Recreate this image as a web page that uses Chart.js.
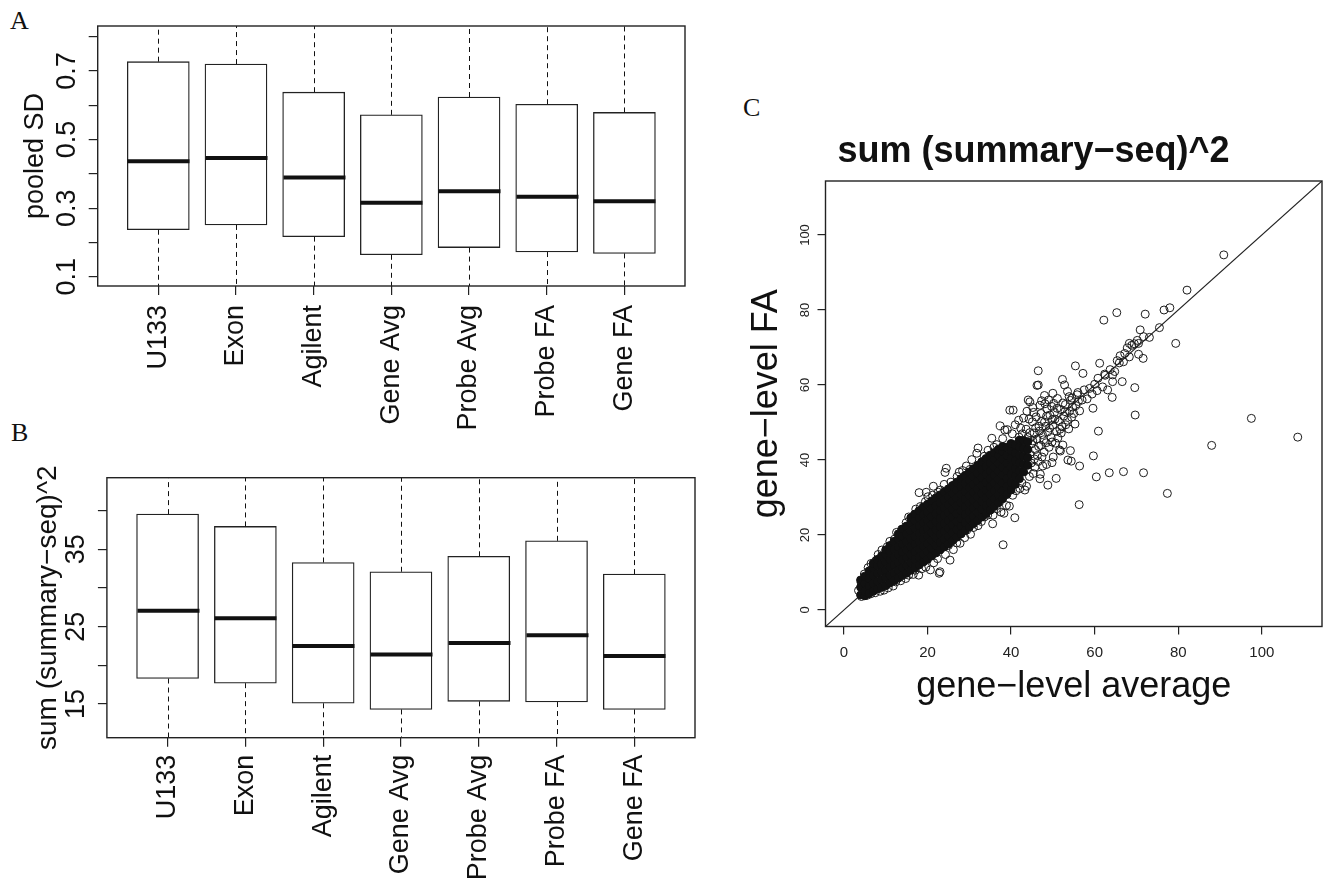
<!DOCTYPE html>
<html>
<head>
<meta charset="utf-8">
<script src="https://cdn.jsdelivr.net/npm/chart.js@4.4.1/dist/chart.umd.min.js"></script>
<style>
html, body { margin: 0; padding: 0; background: #fff; overflow: hidden; width: 1323px; height: 885px; }
canvas { position: absolute; }
.tag { position: absolute; font-family: "Liberation Serif", "DejaVu Serif", serif; font-size: 26px; line-height: 26px; color: #111; }
</style>
</head>
<body>
<div class="tag" style="left:10px;top:8px">A</div>
<div class="tag" style="left:11px;top:420px">B</div>
<div class="tag" style="left:743px;top:95px">C</div>
<canvas id="chartA" width="720" height="440" style="left:0;top:0"></canvas>
<canvas id="chartB" width="720" height="445" style="left:0;top:440px"></canvas>
<canvas id="chartC" width="658" height="720" style="left:745px;top:0"></canvas>
<script>
const groups = ['U133', 'Exon', 'Agilent', 'Gene Avg', 'Probe Avg', 'Probe FA', 'Gene FA']

// panel A - pooled SD (whiskers run past the plotted range)
const sdLow = [0.02, 0.03, 0.01, 0.0, 0.0, 0.0, 0.0]
const sdQ1 = [0.237, 0.251, 0.217, 0.164, 0.185, 0.172, 0.168]
const sdMed = [0.437, 0.446, 0.389, 0.316, 0.349, 0.333, 0.320]
const sdQ3 = [0.727, 0.720, 0.638, 0.572, 0.624, 0.603, 0.579]
const sdHigh = [1.2, 1.2, 1.1, 1.0, 1.1, 1.05, 1.0]
const sdTickLabels = ['0.1', '0.3', '0.5', '0.7']

// panel B - sum (summary-seq)^2
const ssLow = [5, 5, 3, 2, 3, 3, 2]
const ssQ1 = [18.3, 17.7, 15.1, 14.3, 15.35, 15.26, 14.3]
const ssMed = [27.06, 26.1, 22.5, 21.4, 22.9, 23.9, 21.2]
const ssQ3 = [39.55, 37.96, 33.3, 32.1, 34.1, 36.1, 31.8]
const ssHigh = [60, 58, 52, 50, 53, 55, 49]
const ssTickLabels = ['15', '25', '35']

// panel C - gene-level average vs gene-level FA
// the solid black core of the cloud, one row per x
const denseXY = [
  [4,4.0],[4,6.1],[4,8.0],
  [5,3.8],[5,5.0],[5,7.1],[5,9.0],
  [6,4.4],[6,6.4],[6,8.5],[6,10.4],
  [7,5.0],[7,7.1],[7,9.2],[7,11.3],[7,12.4],
  [8,5.6],[8,7.7],[8,9.8],[8,11.9],[8,13.5],
  [9,6.0],[9,8.1],[9,10.2],[9,12.3],[9,14.4],
  [10,6.5],[10,8.6],[10,10.7],[10,12.8],[10,14.9],[10,16.0],
  [11,7.2],[11,9.3],[11,11.4],[11,13.5],[11,15.6],[11,17.2],
  [12,7.8],[12,9.9],[12,12.0],[12,14.1],[12,16.2],[12,18.3],
  [13,8.5],[13,10.6],[13,12.7],[13,14.8],[13,16.9],[13,19.0],[13,20.3],
  [14,9.2],[14,11.3],[14,13.4],[14,15.5],[14,17.6],[14,19.7],[14,21.6],
  [15,9.8],[15,11.9],[15,14.0],[15,16.1],[15,18.2],[15,20.3],[15,22.4],
  [16,10.6],[16,12.7],[16,14.8],[16,16.9],[16,19.0],[16,21.1],[16,23.2],[16,24.6],
  [17,11.3],[17,13.4],[17,15.5],[17,17.6],[17,19.7],[17,21.8],[17,23.9],[17,25.6],
  [18,12.0],[18,14.1],[18,16.2],[18,18.3],[18,20.4],[18,22.5],[18,24.6],[18,26.5],
  [19,12.8],[19,14.9],[19,17.0],[19,19.1],[19,21.2],[19,23.3],[19,25.4],[19,27.5],
  [20,13.5],[20,15.6],[20,17.7],[20,19.8],[20,21.9],[20,24.0],[20,26.1],[20,28.2],
  [21,14.4],[21,16.5],[21,18.6],[21,20.7],[21,22.8],[21,24.9],[21,27.0],[21,29.1],
  [22,15.2],[22,17.3],[22,19.4],[22,21.5],[22,23.6],[22,25.7],[22,27.8],[22,29.9],
  [23,16.0],[23,18.1],[23,20.2],[23,22.3],[23,24.4],[23,26.5],[23,28.6],[23,30.7],
  [24,16.8],[24,18.9],[24,21.0],[24,23.1],[24,25.2],[24,27.3],[24,29.4],[24,31.5],
  [25,17.6],[25,19.7],[25,21.8],[25,23.9],[25,26.0],[25,28.1],[25,30.2],[25,32.3],
  [26,18.5],[26,20.6],[26,22.7],[26,24.8],[26,26.9],[26,29.0],[26,31.1],[26,33.2],
  [27,19.4],[27,21.5],[27,23.6],[27,25.7],[27,27.8],[27,29.9],[27,32.0],[27,34.1],
  [28,20.3],[28,22.4],[28,24.5],[28,26.6],[28,28.7],[28,30.8],[28,32.9],[28,35.0],
  [29,21.2],[29,23.3],[29,25.4],[29,27.5],[29,29.6],[29,31.7],[29,33.8],[29,35.9],
  [30,22.1],[30,24.2],[30,26.3],[30,28.4],[30,30.5],[30,32.6],[30,34.7],[30,36.8],
  [31,23.0],[31,25.1],[31,27.2],[31,29.3],[31,31.4],[31,33.5],[31,35.6],[31,37.7],
  [32,23.9],[32,26.0],[32,28.1],[32,30.2],[32,32.3],[32,34.4],[32,36.5],[32,38.6],
  [33,24.8],[33,26.9],[33,29.0],[33,31.1],[33,33.2],[33,35.3],[33,37.4],[33,39.5],
  [34,25.7],[34,27.8],[34,29.9],[34,32.0],[34,34.1],[34,36.2],[34,38.3],[34,40.4],
  [35,26.6],[35,28.7],[35,30.8],[35,32.9],[35,35.0],[35,37.1],[35,39.2],[35,41.3],
  [36,27.6],[36,29.7],[36,31.8],[36,33.9],[36,36.0],[36,38.1],[36,40.2],[36,42.0],
  [37,28.6],[37,30.7],[37,32.8],[37,34.9],[37,37.0],[37,39.1],[37,41.2],[37,42.9],
  [38,29.7],[38,31.8],[38,33.9],[38,36.0],[38,38.1],[38,40.2],[38,42.3],[38,43.6],
  [39,30.8],[39,32.9],[39,35.0],[39,37.1],[39,39.2],[39,41.3],[39,43.4],
  [40,32.0],[40,34.1],[40,36.2],[40,38.3],[40,40.4],[40,42.5],[40,44.4],
  [41,33.5],[41,35.6],[41,37.7],[41,39.8],[41,41.9],[41,44.0],
  [42,35.0],[42,37.1],[42,39.2],[42,41.3],[42,43.4],[42,45.3],
  [43,36.8],[43,38.9],[43,41.0],[43,43.1],[43,45.2],
  [44,38.6],[44,40.7],[44,42.8],[44,44.9]
]
// open circles round the edge of the cloud and along its upper part
const openXY = [
  [3.5,5.2],[4.1,7.4],[4.9,9.6],[5.8,11.3],[6.5,12.4],[7.6,13.1],[8.2,14.8],[9.1,16.0],[10.4,16.9],
  [11.0,18.3],[12.1,18.9],[12.6,20.7],[13.8,21.5],[14.9,23.3],[15.5,24.8],[16.7,25.2],[17.2,26.9],
  [18.3,27.6],[18.0,31.3],[19.5,28.9],[20.1,30.2],[19.7,31.4],[21.4,33.0],[21.2,30.6],[22.6,31.4],
  [23.1,32.0],[24.2,36.7],[24.5,37.8],[24.0,33.5],[25.6,34.1],[26.2,33.2],[27.1,35.6],[27.6,36.8],
  [28.4,37.2],[29.3,38.4],[30.2,37.5],[30.6,40.1],[31.8,41.8],[32.1,43.2],[33.0,39.5],[33.6,41.0],
  [34.5,42.6],[35.4,45.8],[35.9,43.4],[36.6,44.1],[37.4,49.1],[38.5,48.0],[38.0,45.7],[39.1,48.1],
  [39.7,53.3],[40.3,47.0],[41.0,49.4],[41.8,50.6],[42.3,48.5],[43.0,51.2],[43.8,53.0],[44.1,56.0],
  [45.2,54.0],[46.5,60.0],[47.3,55.8],[48.0,57.2],[49.0,56.0],[50.0,57.8],[50.2,55.1],[51.1,56.4],
  [52.8,60.0],[53.5,58.3],[54.2,55.9],[55.8,57.4],
  [4.2,3.6],[5.5,3.9],[6.4,4.3],[7.5,4.6],[8.7,5.0],[9.6,5.3],[10.6,5.9],[11.8,6.4],[12.4,7.5],
  [13.6,7.8],[14.8,8.4],[15.5,9.3],[16.6,9.5],[17.9,9.3],[17.1,10.6],[18.6,11.0],[19.6,11.4],
  [20.7,10.7],[21.5,12.6],[22.8,9.8],[23.0,10.2],[22.4,13.7],[24.3,14.8],[25.0,17.2],[25.4,13.3],
  [26.2,16.1],[27.0,17.9],[27.8,17.8],[28.1,20.4],[28.9,19.3],[29.4,21.3],[30.3,20.2],[31.0,22.0],
  [32.1,22.5],[32.9,23.6],[33.6,24.8],[34.4,25.3],[35.6,23.0],[35.7,25.3],[36.5,27.0],[37.6,26.1],
  [38.3,25.8],[38.9,27.9],[39.6,27.7],[40.9,24.6],[40.4,30.6],[41.2,31.8],[42.1,32.4],[42.6,33.9],
  [43.3,32.0],[43.7,33.0],[44.4,35.6],[45.3,36.4],[46.9,35.0],[47.0,36.2],[47.6,38.4],[48.5,38.8],
  [48.8,33.3],[49.8,39.3],[50.1,40.8],[50.8,35.1],[51.6,42.7],[52.4,44.0],[53.6,40.0],[54.2,42.5],
  [40.8,42.0],[41.3,44.2],[42.0,42.7],[42.5,45.1],[43.1,39.8],[43.5,43.6],[44.0,46.0],[44.6,41.5],
  [44.9,44.3],[45.5,47.2],[45.8,42.8],[46.2,45.6],[46.7,49.0],[47.1,43.9],[47.5,46.8],[48.0,50.1],
  [48.4,44.6],[48.8,47.5],[49.3,52.0],[49.6,46.0],[50.0,49.3],[50.4,52.7],[50.9,47.6],[51.3,50.5],
  [51.8,53.5],[52.2,48.9],[52.6,51.7],[53.0,54.8],[53.5,50.6],[54.0,53.0],[54.6,56.5],[55.0,52.4],
  [55.5,54.5],[56.0,58.0],[56.4,53.1],[57.0,56.0],[57.5,58.7],[58.2,56.3],[58.8,59.1],[59.4,57.6],
  [60.0,60.2],[60.6,58.5],[61.9,59.5],[62.5,62.6],[63.7,64.1],[64.8,63.6],[65.4,66.5],[67.2,68.4],
  [67.8,69.9],[68.9,70.6],[69.5,71.0],[70.2,71.9],
  [44.8,39.2],[45.6,40.3],[46.3,41.2],[46.8,47.7],[47.9,42.1],[48.3,49.0],[49.1,43.4],[49.9,50.8],
  [50.6,44.5],[51.2,45.9],[52.0,47.2],[52.9,52.9],[53.8,48.3],[54.5,51.4],[55.3,49.6],[56.1,55.6],
  [45.1,50.2],[46.0,51.5],[47.2,52.4],[48.6,53.6],[49.7,54.3],[43.6,48.2],[42.7,47.0],[41.9,46.1],
  [44.5,47.3],[45.2,45.1],[45.9,48.6],[46.6,43.6],[47.3,50.3],[47.8,45.4],[48.5,51.7],[49.2,48.5],
  [49.8,44.8],[50.5,50.9],[51.0,53.8],[51.7,48.2],[52.4,55.2],[53.1,49.4],[53.9,56.9],[54.7,54.1],
  [45.7,38.1],[46.5,39.6],[47.4,40.8],[43.9,37.4],[44.3,50.9],[45.4,52.7],[46.9,54.6],[48.1,55.0]
]
// isolated points
const outlierXY = [
  [90.9,94.7],[82.1,85.3],[62.2,77.3],[65.3,79.3],[72.1,78.9],[76.6,80.0],[78.0,80.6],[75.5,75.3],
  [79.4,71.1],[70.9,74.7],[73.1,72.7],[68.3,71.1],[70.5,71.1],[71.7,72.9],[70.5,68.2],[71.6,67.1],
  [66.1,67.8],[68.3,67.5],[66.9,66.2],[65.9,65.9],[61.2,65.8],[55.4,65.1],[57.2,63.1],[52.3,61.5],
  [60.8,61.8],[62.4,62.9],[64.3,62.7],[64.3,60.9],[66.6,60.9],[69.6,59.3],[63.1,58.7],[64.2,56.7],
  [59.6,53.8],[69.7,52.0],[60.9,47.7],[51.8,42.4],[59.7,41.1],[54.4,39.7],[56.4,38.4],[60.4,35.5],
  [63.5,36.6],[66.9,36.9],[71.7,36.6],[88.0,43.9],[97.5,51.1],[108.6,46.1],[77.4,31.1],[56.3,28.1],
  [38.1,17.4],[46.5,63.8],[46.2,59.9],[40.5,53.3],[44.5,55.5]
]
const diagXY = [[-10, -10], [120, 120]]
const cTickLabels = ['0', '20', '40', '60', '80', '100']

const family = '"Liberation Sans", Arial, Helvetica, sans-serif'
const ink = '#111'

// frame round the plot region, like R's box()
const frame = {
  id: 'frame',
  afterDraw(chart) {
    const {ctx, chartArea: a} = chart
    ctx.save()
    ctx.strokeStyle = '#222'
    ctx.lineWidth = 1.4
    ctx.strokeRect(a.left, a.top, a.right - a.left, a.bottom - a.top)
    ctx.restore()
  }
}

// whiskers + medians on top of the floating bars
const boxParts = {
  id: 'boxParts',
  afterDatasetsDraw(chart, args, opts) {
    const {ctx, chartArea: a, scales: {x, y}} = chart
    const bars = chart.getDatasetMeta(0).data
    ctx.save()
    ctx.beginPath()
    ctx.rect(a.left, a.top, a.right - a.left, a.bottom - a.top)
    ctx.clip()
    ctx.strokeStyle = ink
    opts.med.forEach((m, i) => {
      const px = Math.round(x.getPixelForValue(i + 1)) + 0.5
      const half = bars[i].width / 2
      ctx.setLineDash([5, 4])
      ctx.lineWidth = 1
      ctx.beginPath()
      ctx.moveTo(px, y.getPixelForValue(opts.q3[i]))
      ctx.lineTo(px, y.getPixelForValue(opts.high[i]))
      ctx.moveTo(px, y.getPixelForValue(opts.q1[i]))
      ctx.lineTo(px, y.getPixelForValue(opts.low[i]))
      ctx.stroke()
      ctx.setLineDash([])
      ctx.lineWidth = 4
      ctx.beginPath()
      ctx.moveTo(px - half, y.getPixelForValue(m))
      ctx.lineTo(px + half, y.getPixelForValue(m))
      ctx.stroke()
    })
    ctx.restore()
  }
}

function boxChart(id, c) {
  return new Chart(document.getElementById(id), {
    type: 'bar',
    data: {
      datasets: [{
        data: c.q1.map((v, i) => ({x: i + 1, y: [v, c.q3[i]]})),
        backgroundColor: '#fff',
        borderColor: '#222',
        borderWidth: 1.3,
        borderSkipped: false,
        barThickness: 62
      }]
    },
    options: {
      responsive: false,
      animation: false,
      layout: {padding: {top: c.padTop, right: c.padRight, left: 0, bottom: 0}},
      plugins: {
        legend: {display: false},
        tooltip: {enabled: false},
        boxParts: {q1: c.q1, med: c.med, q3: c.q3, low: c.low, high: c.high}
      },
      scales: {
        x: {
          type: 'linear', min: 0.22, max: 7.78, offset: false,
          afterBuildTicks: s => { s.ticks = groups.map((g, i) => ({value: i + 1})) },
          afterFit: s => { s.height = c.xHeight },
          border: {display: false},
          grid: {offset: false, drawOnChartArea: false, tickLength: 9, color: '#222', lineWidth: 1.2},
          ticks: {
            autoSkip: false, minRotation: 90, maxRotation: 90, padding: c.xPad,
            color: ink, font: {family, size: 27},
            callback: v => groups[v - 1]
          }
        },
        y: {
          min: c.yMin, max: c.yMax,
          afterFit: s => { s.width = c.yWidth },
          border: {display: false},
          grid: {drawOnChartArea: false, tickLength: 9, color: '#222', lineWidth: 1.2},
          ticks: {
            stepSize: c.step, includeBounds: false, autoSkip: false,
            minRotation: 90, maxRotation: 90, crossAlign: 'center', padding: c.yPad,
            color: ink, font: {family, size: 27},
            callback: v => { const t = c.fmt(v); return c.labels.includes(t) ? t : '' }
          },
          title: {
            display: true, text: c.title, color: ink,
            font: {family, size: c.titleSize}, padding: {top: c.titlePad, bottom: 0}
          }
        }
      }
    },
    plugins: [boxParts, frame]
  })
}

boxChart('chartA', {
  q1: sdQ1, med: sdMed, q3: sdQ3, low: sdLow, high: sdHigh,
  yMin: 0.073, yMax: 0.831, step: 0.1, labels: sdTickLabels, fmt: v => v.toFixed(1),
  title: 'pooled SD', titleSize: 27, titlePad: 19,
  padTop: 26, padRight: 35, yWidth: 97.7, xHeight: 154, xPad: 10, yPad: 2
})

boxChart('chartB', {
  q1: ssQ1, med: ssMed, q3: ssQ3, low: ssLow, high: ssHigh,
  yMin: 10.65, yMax: 44.26, step: 5, labels: ssTickLabels, fmt: v => String(Math.round(v)),
  title: 'sum (summary\u2212seq)^2', titleSize: 28, titlePad: 31,
  padTop: 37.7, padRight: 25, yWidth: 106.9, xHeight: 147.3, xPad: 8, yPad: 6
})

const toPts = arr => arr.map(p => ({x: p[0], y: p[1]}))

new Chart(document.getElementById('chartC'), {
  type: 'scatter',
  data: {
    datasets: [
      {
        data: toPts(denseXY),
        pointRadius: 4, pointBorderWidth: 1,
        pointBackgroundColor: '#111', pointBorderColor: '#111'
      },
      {
        data: toPts(openXY.concat(outlierXY)),
        pointRadius: 4, pointBorderWidth: 1,
        pointBackgroundColor: 'rgba(0,0,0,0)', pointBorderColor: '#1c1c1c'
      },
      {
        type: 'line',
        data: toPts(diagXY),
        borderColor: '#222', borderWidth: 1.2, pointRadius: 0, fill: false
      }
    ]
  },
  options: {
    responsive: false,
    animation: false,
    layout: {padding: {top: 0, right: 81, left: 0, bottom: 0}},
    plugins: {
      legend: {display: false},
      tooltip: {enabled: false},
      title: {
        display: true, text: 'sum (summary\u2212seq)^2', color: ink,
        font: {family, size: 36, weight: 'bold'}, padding: {top: 130, bottom: 7.8}
      }
    },
    scales: {
      x: {
        type: 'linear', min: -4.4, max: 114.4,
        afterFit: s => { s.height = 93.5 },
        border: {display: false},
        grid: {drawOnChartArea: false, tickLength: 8, color: '#222', lineWidth: 1.2},
        ticks: {
          stepSize: 20, includeBounds: false, padding: 9, color: '#222',
          font: {family, size: 15},
          callback: v => cTickLabels.includes(String(v)) ? String(v) : ''
        },
        title: {
          display: true, text: 'gene\u2212level average', color: ink,
          font: {family, size: 36}, padding: {top: 0, bottom: 11.8}
        }
      },
      y: {
        min: -4.4, max: 114.4,
        afterFit: s => { s.width = 80.5 },
        border: {display: false},
        grid: {drawOnChartArea: false, tickLength: 8, color: '#222', lineWidth: 1.2},
        ticks: {
          stepSize: 20, includeBounds: false, autoSkip: false,
          minRotation: 90, maxRotation: 90, crossAlign: 'center', padding: 1, color: '#222',
          font: {family, size: 13},
          callback: v => cTickLabels.includes(String(v)) ? String(v) : ''
        },
        title: {
          display: true, text: 'gene\u2212level FA', color: ink,
          font: {family, size: 36}, padding: {top: 0.8, bottom: 0}
        }
      }
    }
  },
  plugins: [frame]
})
</script>
</body>
</html>
